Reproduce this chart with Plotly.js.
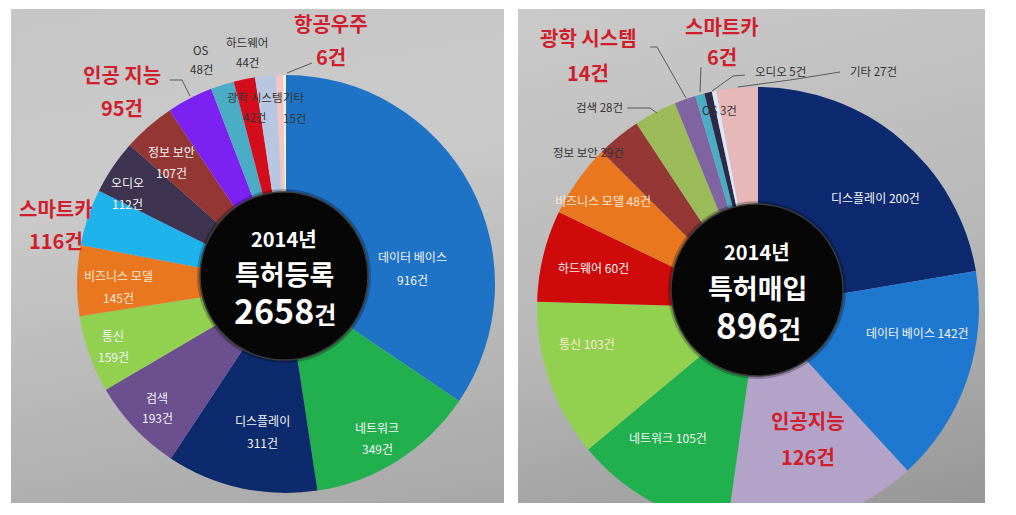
<!DOCTYPE html>
<html>
<head>
<meta charset="utf-8">
<script src="https://cdn.plot.ly/plotly-3.0.1.min.js"></script>
<style>
  body { margin: 0; background: #ffffff; }
  #wrap { position: relative; width: 1016px; height: 515px; overflow: hidden; background: #ffffff; }
  .panel { position: absolute; top: 9px; height: 494px; }
  #panelL { left: 11px; width: 493px; background: linear-gradient(170deg, #c6c6c6 0%, #cacaca 35%, #a8a8a8 100%); }
  #panelR { left: 518px; width: 467px; background: linear-gradient(165deg, #cacaca 0%, #b8b8b8 55%, #979797 100%); }
  #chart { position: absolute; left: 0; top: 0; width: 1016px; height: 560px; }
</style>
</head>
<body>
<div id="wrap">
  <div class="panel" id="panelL"></div>
  <div class="panel" id="panelR"></div>
  <div id="chart"></div>
</div>
<script>
// 2014 patent registrations (left) and purchases (right), clockwise from 12 o'clock
const regLabels = ['데이터 베이스', '네트워크', '디스플레이', '검색', '통신', '비즈니스 모델', '스마트카',
    '오디오', '정보 보안', '인공 지능', 'OS', '하드웨어', '광학 시스템', '기타', '항공우주'];
const regValues = [916, 349, 311, 193, 159, 145, 116, 112, 107, 95, 48, 44, 42, 15, 6];

const buyLabels = ['디스플레이', '데이터 베이스', '인공지능', '네트워크', '통신', '하드웨어', '비즈니스 모델',
    '정보 보안', '검색', '광학 시스템', '스마트카', '오디오', 'OS', '기타'];
const buyValues = [200, 142, 126, 105, 103, 60, 48, 29, 28, 14, 6, 5, 3, 27];

const regColors = ['#1e73c6', '#22b04e', '#0c2a6c', '#6b4f8e', '#92d050', '#e8771f', '#1fb3ee',
    '#3e3350', '#943634', '#7b22f2', '#4bacc6', '#d40d1d', '#b9c6e2', '#f3c4c4', '#f4f1df'];
const buyColors = ['#0d2a70', '#1f78d0', '#b4a3c8', '#20b04d', '#92d050', '#cf0a0a', '#e8771f',
    '#953735', '#9bbb59', '#8064a2', '#4bacc6', '#2b2948', '#dce6f5', '#e6b9b8'];

// label placement (pixels): [x, y of name, gap to count line (0 = one line)], and style
const regPos = [[412, 257, 22], [377, 427, 21], [262, 420, 22], [157, 397, 20], [113, 335, 21],
    [118, 275, 22], [56, 208, 32], [127, 183, 20], [171, 152, 20], [122, 75, 32],
    [201, 50, 19], [247, 42, 20], [254, 97, 20], [294, 97, 21], [331, 24, 33]];
const regStyle = ['w', 'w', 'w', 'w', 'w', 'c', 'r', 'w', 'w', 'r', 'd', 'd', 'd', 'd', 'r'];
const buyPos = [[875, 197, 0], [917, 332, 0], [808, 420, 36], [668, 437, 0], [587, 343, 0],
    [593, 267, 0], [603, 200, 0], [588, 152, 0], [599, 107, 0], [588, 38, 34],
    [722, 26, 31], [780, 71, 0], [719, 110, 0], [873, 71, 0]];
const buyStyle = ['w', 'w', 'r', 'w', 'c', 'w', 'c', 'd', 'd', 'r', 'r', 'd', 'd', 'd'];

const W = 1016, H = 560;
const X = p => p / W;
const Y = p => 1 - p / H;
const FONT = '"Noto Sans CJK KR", "Noto Sans", sans-serif';

const styles = {
    w: { color: '#f4f4f4', size: 12, bold: false },
    c: { color: '#fbe7d6', size: 12, bold: false },
    d: { color: '#333333', size: 11.5, bold: false },
    r: { color: '#d01e2c', size: 20, bold: true }
};

function pieTrace(labels, values, colors, cx, cy, r) {
    return {
        type: 'pie',
        labels: labels,
        values: values,
        sort: false,
        direction: 'clockwise',
        rotation: 0,
        textinfo: 'none',
        hoverinfo: 'label+value',
        marker: { colors: colors, line: { width: 0 } },
        domain: { x: [X(cx - r), X(cx + r)], y: [Y(cy + r), Y(cy - r)] },
        showlegend: false
    };
}

function sliceLabels(labels, values, pos, style) {
    const out = [];
    labels.forEach((name, i) => {
        const s = styles[style[i]];
        const [x, y, gap] = pos[i];
        const wrap = t => s.bold ? '<b>' + t + '</b>' : t;
        const base = {
            xref: 'paper', yref: 'paper', showarrow: false,
            xanchor: 'center', yanchor: 'middle',
            font: { family: FONT, size: s.size, color: s.color }
        };
        if (gap > 0) {
            out.push({ ...base, x: X(x), y: Y(y), text: wrap(name) });
            out.push({ ...base, x: X(x), y: Y(y + gap), text: wrap(values[i] + '건') });
        } else {
            out.push({ ...base, x: X(x), y: Y(y), text: wrap(name + ' ' + values[i] + '건') });
        }
    });
    return out;
}

function centerText(cx, cy, title, total, numSize) {
    const base = {
        xref: 'paper', yref: 'paper', showarrow: false, xanchor: 'center', yanchor: 'middle',
        font: { family: FONT, color: '#ffffff' }
    };
    return [
        { ...base, x: X(cx), y: Y(cy - 38), text: '<b>2014년</b>', font: { ...base.font, size: 20 } },
        { ...base, x: X(cx), y: Y(cy - 3), text: '<b>' + title + '</b>', font: { ...base.font, size: 27 } },
        { ...base, x: X(cx + 1), y: Y(cy + 33),
          text: '<b>' + total + '<span style="font-size:' + Math.round(numSize * 0.7) + 'px">건</span></b>',
          font: { ...base.font, size: numSize } }
    ];
}

function disc(cx, cy, r) {
    return [
        { type: 'circle', xref: 'paper', yref: 'paper', layer: 'above',
          x0: X(cx - r - 3), x1: X(cx + r + 3), y0: Y(cy + r + 3), y1: Y(cy - r - 3),
          fillcolor: 'rgba(0,0,0,0.25)', line: { width: 0 } },
        { type: 'circle', xref: 'paper', yref: 'paper', layer: 'above',
          x0: X(cx - r), x1: X(cx + r), y0: Y(cy + r), y1: Y(cy - r),
          fillcolor: '#060606', line: { color: '#3a3a3a', width: 1.5 } }
    ];
}

function leader(points) {
    const d = points.map((p, i) => (i ? 'L ' : 'M ') + X(p[0]) + ',' + Y(p[1])).join(' ');
    return { type: 'path', xref: 'paper', yref: 'paper', layer: 'above', path: d,
             line: { color: '#5a5a5a', width: 1 } };
}

const regTotal = regValues.reduce((a, b) => a + b, 0);
const buyTotal = buyValues.reduce((a, b) => a + b, 0);

const traces = [
    pieTrace(regLabels, regValues, regColors, 286, 284, 209),
    pieTrace(buyLabels, buyValues, buyColors, 758, 308, 221)
];

const shapes = [
    // panel bottom edge crops the right pie
    { type: 'rect', xref: 'paper', yref: 'paper', layer: 'above',
      x0: X(510), x1: 1, y0: 0, y1: Y(503), fillcolor: '#ffffff', line: { width: 0 } },
    ...disc(284, 276, 84),
    ...disc(757, 290, 86),
    leader([[170, 80], [182, 80], [190, 96]]),
    leader([[312, 63], [287, 73]]),
    leader([[650, 47], [657, 47], [686, 98]]),
    leader([[701, 67], [700, 92]]),
    leader([[745, 75], [733, 76], [712, 91]]),
    leader([[840, 72], [790, 80], [738, 87]]),
    leader([[627, 108], [650, 108], [657, 113]])
];

const annotations = [
    ...sliceLabels(regLabels, regValues, regPos, regStyle),
    ...sliceLabels(buyLabels, buyValues, buyPos, buyStyle),
    ...centerText(284, 276, '특허등록', regTotal, 34),
    ...centerText(757, 290, '특허매입', buyTotal, 35)
];

const layout = {
    width: W,
    height: H,
    margin: { l: 0, r: 0, t: 0, b: 0 },
    paper_bgcolor: 'rgba(0,0,0,0)',
    plot_bgcolor: 'rgba(0,0,0,0)',
    showlegend: false,
    shapes: shapes,
    annotations: annotations
};

Plotly.newPlot('chart', traces, layout, { displayModeBar: false, staticPlot: true });
</script>
</body>
</html>
